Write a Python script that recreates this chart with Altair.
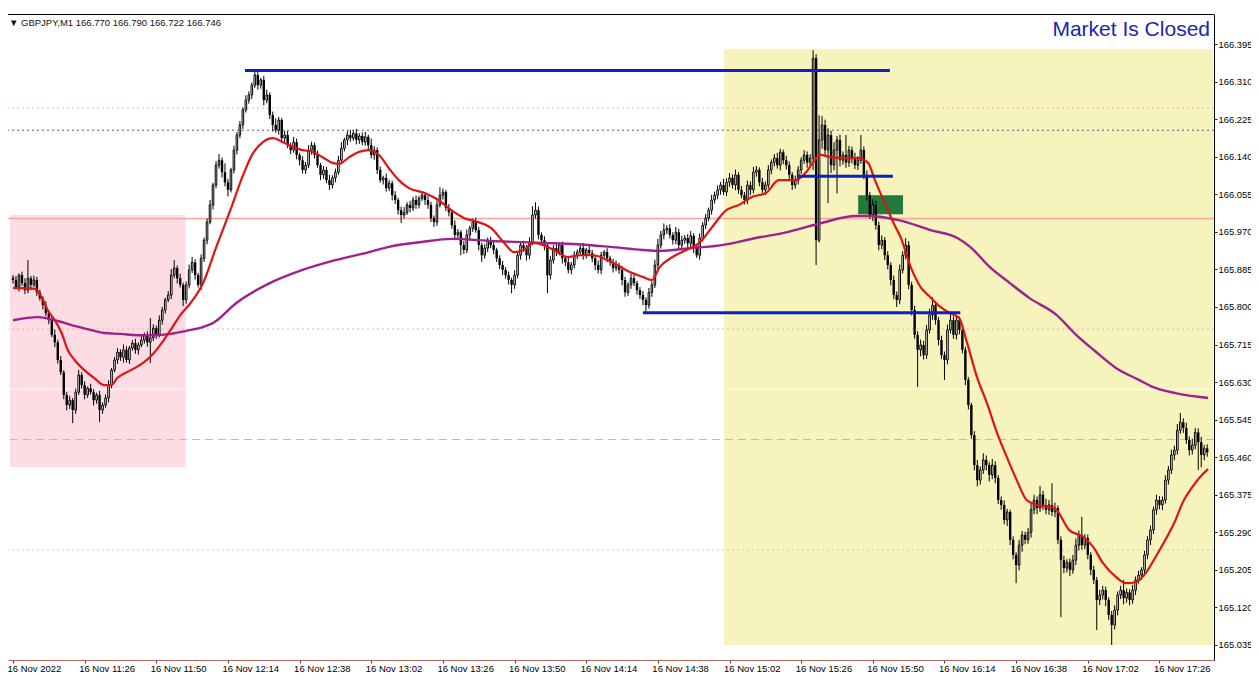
import altair as alt
import pandas as pd

# ---------------- data (prices as points above 165.000, 1 point = 0.001) ----------------
BASE = 165.0
first_open_pts = 866

close_pts = [
    861, 845, 872, 854, 838, 865, 850, 861, 833, 820, 804, 786, 770, 737, 720, 680, 652, 601, 578, 589,
    567, 607, 646, 623, 601, 616, 607, 589, 601, 567, 578, 594, 623, 657, 680, 698, 686, 703, 680, 707,
    718, 703, 714, 725, 737, 720, 730, 752, 737, 770, 793, 816, 827, 872, 888, 865, 850, 816, 850, 884,
    901, 872, 850, 910, 951, 992, 1031, 1076, 1121, 1132, 1105, 1082, 1065, 1110, 1155, 1189, 1212, 1246, 1268, 1280,
    1302, 1325, 1302, 1314, 1268, 1280, 1234, 1212, 1200, 1223, 1182, 1189, 1166, 1155, 1173, 1144, 1132, 1110, 1121, 1155,
    1166, 1144, 1121, 1099, 1110, 1087, 1076, 1092, 1105, 1132, 1159, 1178, 1189, 1182, 1193, 1178, 1187, 1173, 1185, 1166,
    1144, 1155, 1110, 1087, 1092, 1069, 1080, 1053, 1042, 1019, 1008, 1014, 1031, 1024, 1042, 1031, 1046, 1053, 1042, 1031,
    1001, 992, 1031, 1053, 1060, 1024, 1014, 985, 963, 969, 940, 929, 963, 978, 992, 974, 940, 917, 933, 951,
    940, 929, 910, 895, 884, 872, 861, 850, 872, 917, 940, 933, 917, 946, 1008, 1019, 963, 951, 940, 872,
    906, 933, 924, 940, 910, 901, 884, 895, 917, 924, 933, 917, 929, 922, 910, 895, 884, 917, 924, 910,
    901, 888, 895, 884, 861, 833, 850, 865, 854, 838, 827, 816, 804, 833, 850, 895, 940, 963, 974, 978,
    963, 951, 969, 940, 951, 956, 944, 961, 933, 917, 956, 985, 1001, 1019, 1042, 1053, 1065, 1076, 1060, 1082,
    1092, 1076, 1099, 1065, 1053, 1042, 1076, 1065, 1105, 1110, 1082, 1065, 1076, 1110, 1127, 1137, 1121, 1150, 1132, 1121,
    1099, 1076, 1087, 1110, 1132, 1144, 1127, 1137, 1363, 951, 1178, 1212, 1155, 1189, 1121, 1155, 1178, 1132, 1144, 1127,
    1155, 1137, 1121, 1132, 1155, 1099, 1053, 1008, 1031, 985, 940, 951, 917, 895, 861, 827, 816, 884, 917, 940,
    850, 793, 737, 703, 714, 691, 748, 782, 804, 770, 725, 691, 680, 748, 770, 737, 770, 748, 703, 635,
    578, 510, 442, 408, 431, 454, 442, 420, 442, 413, 363, 352, 318, 336, 273, 239, 216, 261, 284, 273,
    290, 341, 363, 345, 375, 352, 341, 352, 336, 345, 273, 227, 209, 222, 205, 227, 261, 284, 261, 277,
    239, 205, 182, 137, 148, 159, 137, 103, 80, 114, 148, 159, 141, 154, 137, 159, 182, 193, 205, 239,
    273, 295, 341, 363, 352, 363, 408, 431, 465, 476, 521, 539, 526, 499, 476, 487, 516, 494, 465, 480,
    471,
]

upper_wick_pts = [
    6, 9, 4, 8, 11, 41, 5, 10, 7, 6, 4, 9, 5, 8, 12, 6, 9, 5, 7, 10,
    5, 8, 12, 6, 9, 4, 10, 7, 5, 9, 6, 8, 11, 5, 7, 9, 6, 12, 8, 5,
    7, 10, 6, 9, 5, 8, 45, 9, 6, 11, 7, 5, 9, 14, 18, 6, 10, 5, 8, 12,
    12, 7, 5, 9, 6, 8, 11, 5, 9, 14, 6, 20, 8, 5, 10, 7, 9, 6, 11, 8,
    6, 7, 10, 5, 9, 12, 6, 8, 15, 7, 5, 10, 9, 6, 12, 8, 5, 9, 7, 11,
    8, 6, 10, 5, 9, 7, 12, 6, 8, 10, 14, 5, 9, 12, 7, 10, 6, 8, 11, 5,
    15, 9, 6, 8, 5, 10, 7, 6, 9, 5, 8, 12, 6, 9, 7, 10, 5, 8, 6, 9,
    7, 6, 10, 18, 8, 5, 9, 6, 11, 7, 5, 9, 12, 6, 8, 10, 7, 5, 9, 6,
    8, 10, 5, 7, 9, 6, 8, 5, 11, 9, 6, 10, 7, 12, 20, 18, 8, 6, 9, 5,
    9, 7, 11, 6, 8, 5, 10, 7, 9, 6, 8, 12, 5, 9, 7, 6, 10, 8, 5, 9,
    6, 8, 10, 5, 9, 7, 6, 11, 8, 5, 7, 9, 6, 10, 8, 12, 14, 9, 15, 7,
    9, 6, 12, 8, 10, 7, 9, 11, 6, 8, 10, 7, 9, 6, 12, 8, 10, 7, 14, 9,
    11, 8, 12, 6, 9, 7, 10, 8, 12, 9, 6, 10, 8, 11, 7, 9, 12, 8, 6, 10,
    8, 6, 10, 9, 7, 11, 8, 9, 18, 9, 56, 20, 12, 15, 10, 18, 9, 12, 8, 45,
    10, 8, 12, 9, 34, 8, 10, 7, 12, 9, 8, 11, 7, 9, 6, 10, 8, 12, 9, 16,
    9, 7, 10, 8, 12, 9, 11, 14, 18, 9, 7, 10, 8, 12, 19, 9, 11, 8, 6, 7,
    6, 5, 9, 12, 8, 15, 10, 7, 14, 9, 6, 8, 10, 7, 5, 8, 6, 12, 9, 7,
    10, 15, 12, 8, 20, 9, 14, 11, 49, 12, 6, 8, 10, 7, 9, 12, 15, 10, 41, 9,
    8, 6, 9, 7, 12, 10, 8, 6, 9, 11, 8, 10, 23, 9, 7, 12, 8, 10, 6, 9,
    8, 10, 7, 12, 9, 8, 11, 9, 12, 10, 14, 21, 9, 12, 8, 15, 10, 9, 12, 8,
    9,
]

lower_wick_pts = [
    8, 5, 10, 6, 9, 7, 12, 5, 8, 6, 10, 7, 9, 5, 11, 8, 6, 10, 12, 9,
    30, 9, 6, 8, 10, 7, 5, 12, 8, 27, 9, 6, 10, 7, 5, 9, 8, 12, 6, 9,
    6, 9, 11, 5, 8, 10, 47, 7, 9, 6, 10, 8, 5, 9, 7, 12, 6, 14, 9, 8,
    7, 10, 6, 12, 8, 9, 5, 10, 7, 8, 12, 9, 15, 6, 8, 10, 7, 9, 6, 8,
    9, 6, 10, 8, 12, 7, 9, 15, 6, 10, 8, 11, 7, 9, 6, 10, 12, 8, 9, 7,
    10, 8, 6, 12, 9, 7, 11, 8, 10, 6, 9, 7, 12, 8, 6, 10, 9, 7, 8, 12,
    8, 11, 9, 6, 10, 8, 7, 12, 9, 10, 18, 8, 6, 10, 7, 9, 8, 6, 11, 9,
    9, 11, 8, 6, 10, 7, 9, 8, 12, 10, 23, 9, 7, 10, 8, 6, 12, 15, 8, 9,
    7, 10, 8, 9, 12, 8, 10, 19, 9, 7, 10, 8, 12, 9, 6, 8, 10, 9, 12, 41,
    10, 8, 9, 7, 12, 9, 8, 10, 7, 9, 6, 10, 8, 7, 9, 12, 8, 10, 6, 9,
    8, 10, 7, 9, 12, 10, 8, 9, 7, 10, 9, 12, 15, 8, 10, 7, 9, 8, 10, 9,
    8, 10, 9, 7, 12, 8, 10, 9, 11, 6, 10, 8, 9, 7, 10, 8, 9, 11, 7, 9,
    10, 8, 12, 9, 7, 10, 9, 12, 8, 10, 9, 7, 11, 8, 10, 9, 8, 12, 9, 10,
    9, 11, 8, 10, 9, 8, 12, 9, 27, 56, 5, 20, 15, 120, 18, 12, 98, 14, 10, 12,
    10, 12, 9, 11, 8, 10, 12, 9, 14, 10, 12, 9, 11, 10, 12, 9, 16, 10, 8, 9,
    10, 12, 9, 84, 15, 10, 9, 8, 11, 10, 12, 9, 45, 10, 8, 9, 11, 10, 8, 12,
    10, 8, 12, 14, 10, 9, 12, 15, 10, 12, 9, 11, 10, 14, 12, 10, 41, 12, 15, 10,
    9, 12, 10, 14, 9, 12, 10, 11, 9, 12, 10, 129, 12, 10, 14, 9, 11, 12, 10, 9,
    10, 12, 9, 68, 12, 10, 14, 11, 45, 10, 12, 9, 14, 10, 12, 9, 11, 8, 10, 9,
    10, 12, 9, 11, 10, 12, 8, 10, 9, 12, 10, 8, 11, 9, 12, 10, 9, 63, 28, 12,
    10,
]

# moving averages (bar index, points)
fast_ma_bar = [
    0.0, 7.3, 9.6, 11.6, 14.0, 16.3, 18.3, 20.6, 23.9, 27.2,
    30.6, 32.9, 34.9, 39.5, 43.9, 47.2, 50.5, 52.8, 56.1, 59.5,
    63.8, 68.1, 72.8, 77.1, 80.4, 83.7, 87.0, 90.4, 93.7, 97.0,
    100.3, 103.7, 107.0, 109.3, 112.6, 115.9, 119.3, 122.6, 125.9, 129.2,
    132.6, 137.9, 142.5, 146.8, 151.2, 155.8, 160.1, 164.5, 167.8, 171.1,
    174.4, 177.7, 182.4, 185.7, 190.0, 194.4, 199.0, 202.3, 206.6, 211.0,
    214.0, 216.6, 220.9, 225.6, 229.9, 234.2, 238.9, 243.2, 247.5, 252.2,
    256.5, 262.1, 265.4, 267.4, 270.4, 274.1, 278.7, 283.1, 286.4, 288.7,
    292.0, 295.3, 297.3, 300.7, 304.0, 307.3, 310.6, 313.9, 316.9, 319.6,
    322.9, 326.2, 329.6, 332.9, 336.2, 339.5, 342.9, 348.8, 353.8, 358.5,
    361.8, 365.1, 369.4, 372.8, 376.1, 379.4, 382.7, 386.0, 389.4, 391.7,
    395.0, 398.3, 400.3,
]
fast_ma_pts = [
    843, 841, 822, 793, 770, 741, 703, 680, 657, 639,
    623, 623, 639, 657, 675, 696, 725, 748, 782, 809,
    856, 936, 1019, 1099, 1148, 1173, 1182, 1173, 1162, 1155,
    1151, 1139, 1126, 1124, 1139, 1151, 1155, 1144, 1114, 1087,
    1069, 1058, 1042, 1019, 1001, 992, 979, 945, 924, 929,
    945, 940, 924, 913, 917, 917, 906, 895, 879, 868,
    861, 890, 913, 929, 945, 981, 1019, 1031, 1049, 1058,
    1087, 1087, 1103, 1121, 1144, 1139, 1137, 1137, 1126, 1087,
    1035, 985, 958, 890, 845, 822, 800, 786, 775, 718,
    641, 583, 515, 460, 408, 363, 352, 345, 295, 279,
    257, 220, 189, 175, 177, 198, 234, 273, 318, 356,
    392, 420, 433,
]
slow_ma_bar = [
    0.0, 8.3, 14.0, 19.6, 24.9, 30.6, 36.2, 41.5, 47.2, 52.8,
    58.1, 63.8, 67.1, 74.8, 86.0, 97.0, 108.0, 119.3, 125.9, 136.9,
    146.8, 161.1, 177.7, 189.0, 200.0, 211.0, 216.6, 226.6, 237.5, 248.8,
    259.8, 270.8, 282.1, 287.4, 296.3, 307.3, 316.3, 320.6, 327.2, 333.9,
    340.5, 349.5, 356.1, 362.8, 369.4, 377.1, 381.7, 389.4, 400.3,
]
slow_ma_pts = [
    770, 777, 770, 759, 750, 741, 739, 736, 736, 739,
    746, 755, 764, 809, 854, 884, 906, 924, 936, 947,
    954, 949, 945, 942, 936, 929, 927, 933, 940, 956,
    970, 990, 1006, 1006, 997, 974, 956, 936, 890, 854,
    820, 782, 737, 698, 662, 635, 619, 605, 594,
]

time_labels = [
    "16 Nov 2022", "16 Nov 11:26", "16 Nov 11:50", "16 Nov 12:14", "16 Nov 12:38",
    "16 Nov 13:02", "16 Nov 13:26", "16 Nov 13:50", "16 Nov 14:14", "16 Nov 14:38",
    "16 Nov 15:02", "16 Nov 15:26", "16 Nov 15:50", "16 Nov 16:14", "16 Nov 16:38",
    "16 Nov 17:02", "16 Nov 17:26",
]
time_tick_bars = [0, 24, 48, 72, 96, 120, 144, 168, 192, 216, 240, 264, 288, 312, 336, 360, 384]
price_ticks = [165.035, 165.120, 165.205, 165.290, 165.375, 165.460, 165.545, 165.630, 165.715,
               165.800, 165.885, 165.970, 166.055, 166.140, 166.225, 166.310, 166.395]

# zones (bar from, bar to, price from, price to)
zone_names = ["pink", "yellow", "green"]
zone_x1 = [-1.0, 238.2, 283.1]
zone_x2 = [57.8, 402.0, 298.1]
zone_y1 = [165.438, 165.035, 166.010]
zone_y2 = [166.008, 166.384, 166.053]
zone_colors = ["#fddde3", "#f6f3bd", "#1f7a3c"]

# blue trend segments
seg_x1 = [77.7, 262.8, 211.0]
seg_x2 = [293.7, 294.7, 317.3]
seg_price = [166.335, 166.096, 165.787]

# horizontal levels
level_price = [166.250, 166.200, 166.000, 165.750, 165.614, 165.500, 165.250]
level_color = ["#eeb3a6", "#5c5c7c", "#f6a596", "#dcb6ae", "#ffffff", "#f0a898", "#d8c2ba"]
level_dash = [[2, 3], [2, 3], [1, 0], [2, 3], [1, 0], [8, 5], [2, 3]]
level_width = [1, 1, 1.5, 1, 1, 1, 1]

header_text = "\u25BC GBPJPY,M1  166.770 166.790 166.722 166.746"
status_text = "Market Is Closed"

# ---------------- build tables ----------------
n = min(len(close_pts), len(upper_wick_pts), len(lower_wick_pts))
rows = []
prev = first_open_pts
for i in range(n):
    o = prev
    c = close_pts[i]
    hi = max(o, c) + upper_wick_pts[i]
    lo = min(o, c) - lower_wick_pts[i]
    rows.append({
        "bar": i,
        "open": BASE + o / 1000.0,
        "close": BASE + c / 1000.0,
        "high": BASE + hi / 1000.0,
        "low": BASE + lo / 1000.0,
        "up": c >= o,
    })
    prev = c
candles = pd.DataFrame(rows)
bull = candles[candles["up"]]
bear = candles[~candles["up"]]

fast_ma = pd.DataFrame({"bar": fast_ma_bar, "price": [BASE + p / 1000.0 for p in fast_ma_pts]})
slow_ma = pd.DataFrame({"bar": slow_ma_bar, "price": [BASE + p / 1000.0 for p in slow_ma_pts]})
zones = pd.DataFrame({"name": zone_names, "x1": zone_x1, "x2": zone_x2,
                      "y1": zone_y1, "y2": zone_y2, "color": zone_colors})
segs = pd.DataFrame({"x1": seg_x1, "x2": seg_x2, "price": seg_price})
one = pd.DataFrame({"a": [0]})

W, H = 1206, 646
xs = alt.Scale(domain=[0, 400.6], nice=False, zero=False)
ys = alt.Scale(domain=[165.001, 166.463], nice=False, zero=False)
FONT = "Liberation Sans"

label_expr = "[" + ",".join("'" + t + "'" for t in time_labels) + "][round(datum.value/24)]"

x_axis = alt.Axis(orient="bottom", values=time_tick_bars, labelExpr=label_expr, labelAlign="left",
                  labelBaseline="top", labelPadding=0, labelOffset=-6, tickSize=3, tickColor="#444444",
                  domainColor="#b86a60", domainWidth=1, labelFont=FONT, labelFontSize=9.5,
                  labelColor="#000000", labelOverlap=False, labelFlush=False, grid=False, title=None)
y_axis = alt.Axis(orient="right", values=price_ticks, format=".3f", tickSize=3, tickColor="#222222",
                  labelPadding=1, domainColor="#000000", domainWidth=1, labelFont=FONT,
                  labelFontSize=9.4, labelColor="#000000", labelOverlap=False, labelFlush=False,
                  grid=False, title=None)


def X(field):
    return alt.X(field, scale=xs, axis=x_axis)


def Y(field):
    return alt.Y(field, scale=ys, axis=y_axis)


zone_layer = alt.Chart(zones).mark_rect(clip=True).encode(
    x=X("x1:Q"), x2="x2:Q", y=Y("y1:Q"), y2="y2:Q",
    color=alt.Color("color:N", scale=None),
)

level_layers = []
for p, col, dash, w in zip(level_price, level_color, level_dash, level_width):
    level_layers.append(
        alt.Chart(one).mark_rule(color=col, strokeDash=dash, strokeWidth=w).encode(
            y=Y("v:Q")
        ).transform_calculate(v=str(p))
    )

wicks = alt.Chart(candles).mark_rule(color="#000000", strokeWidth=1, clip=True).encode(
    x=X("bar:Q"), y=Y("low:Q"), y2="high:Q",
)
bull_bodies = alt.Chart(bull).mark_bar(size=1.6, fill="#ffffff", stroke="#000000", strokeWidth=1,
                                       clip=True).encode(
    x=X("bar:Q"), y=Y("open:Q"), y2="close:Q",
)
bear_bodies = alt.Chart(bear).mark_bar(size=2.4, fill="#000000", clip=True).encode(
    x=X("bar:Q"), y=Y("open:Q"), y2="close:Q",
)

slow_line = alt.Chart(slow_ma).mark_line(color="#a0208e", strokeWidth=2.4, clip=True,
                                         interpolate="monotone").encode(
    x=X("bar:Q"), y=Y("price:Q"))
fast_line = alt.Chart(fast_ma).mark_line(color="#dd1515", strokeWidth=2.2, clip=True,
                                         interpolate="monotone").encode(
    x=X("bar:Q"), y=Y("price:Q"))

seg_layer = alt.Chart(segs).mark_rule(color="#0a1fc4", strokeWidth=3).encode(
    x=X("x1:Q"), x2="x2:Q", y=Y("price:Q"),
)

top_border = alt.Chart(one).mark_rule(color="#000000", strokeWidth=1).encode(
    x=alt.value(0), x2=alt.value(W), y=alt.value(0.5))

header = alt.Chart(one).mark_text(align="left", baseline="middle", font=FONT, fontSize=9.5,
                                  color="#111111").encode(
    x=alt.value(1), y=alt.value(9), text=alt.value(header_text))
status = alt.Chart(one).mark_text(align="right", baseline="alphabetic", font=FONT, fontSize=21,
                                  color="#1c24b4").encode(
    x=alt.value(1202), y=alt.value(22), text=alt.value(status_text))

chart = alt.layer(
    zone_layer, *level_layers, wicks, bull_bodies, bear_bodies, slow_line, fast_line,
    seg_layer, top_border, header, status,
).properties(
    width=W, height=H,
    background="#ffffff",
    autosize=alt.AutoSizeParams(type="none"),
    padding={"left": 0, "top": 6, "right": 37, "bottom": 12},
).configure_view(stroke=None)

chart.save("out.html", embed_options={"renderer": "svg", "actions": False})
